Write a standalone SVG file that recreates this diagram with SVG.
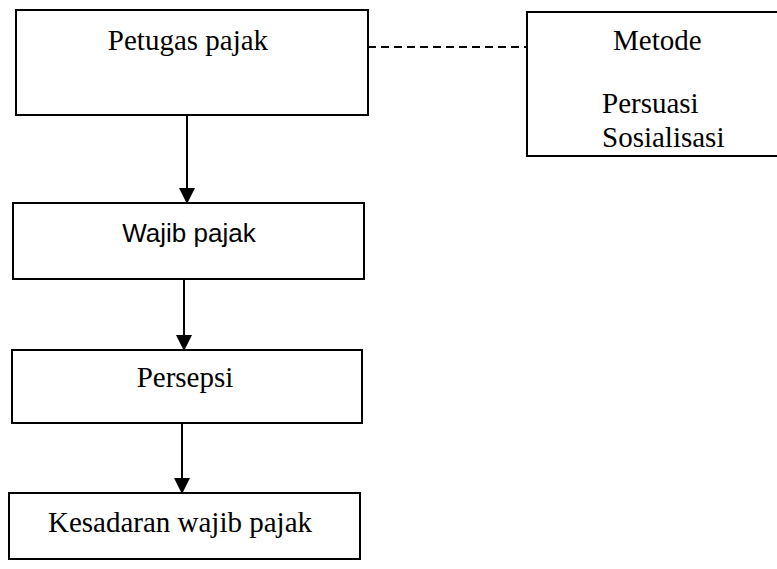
<svg xmlns="http://www.w3.org/2000/svg" width="777" height="569" viewBox="0 0 777 569">
<defs>
<style>
.box{fill:#fff;stroke:#000;stroke-width:2}
.serif{font-family:"Liberation Serif","Times New Roman",serif;font-size:29px;fill:#000}
.sans{font-family:"Liberation Sans",Arial,sans-serif;font-size:26px;fill:#000}
.conn{stroke:#000;stroke-width:2;fill:none}
.dash{stroke:#000;stroke-width:2;fill:none;stroke-dasharray:8,5}
</style>
<marker id="arr" viewBox="0 0 16 16" refX="15" refY="8" markerWidth="16" markerHeight="16" markerUnits="userSpaceOnUse" orient="auto">
<path d="M0,0 L16,8 L0,16 Z" fill="#000"/>
</marker>
</defs>
<rect width="777" height="569" fill="#fff"/>
<g id="connectors">
<line class="conn" x1="187" y1="115" x2="187" y2="203" marker-end="url(#arr)"/>
<line class="conn" x1="184" y1="279" x2="184" y2="350" marker-end="url(#arr)"/>
<line class="conn" x1="182" y1="423" x2="182" y2="493" marker-end="url(#arr)"/>
<line class="dash" x1="368" y1="47" x2="527" y2="47"/>
</g>
<g id="petugas">
<rect class="box" x="16" y="10" width="352" height="105"/>
<text class="serif" x="188" y="50" text-anchor="middle">Petugas pajak</text>
</g>
<g id="metode">
<rect class="box" x="527" y="12" width="252" height="144"/>
<text class="serif" x="613" y="50">Metode</text>
<text class="serif" x="602" y="113">Persuasi</text>
<text class="serif" x="602" y="147">Sosialisasi</text>
</g>
<g id="wajib">
<rect class="box" x="13" y="203" width="351" height="76"/>
<text class="sans" x="189" y="242" text-anchor="middle">Wajib pajak</text>
</g>
<g id="persepsi">
<rect class="box" x="12" y="350" width="350" height="73"/>
<text class="serif" x="185" y="387" text-anchor="middle">Persepsi</text>
</g>
<g id="kesadaran">
<rect class="box" x="9" y="493" width="351" height="66"/>
<text class="serif" x="180" y="532" text-anchor="middle">Kesadaran wajib pajak</text>
</g>
</svg>
